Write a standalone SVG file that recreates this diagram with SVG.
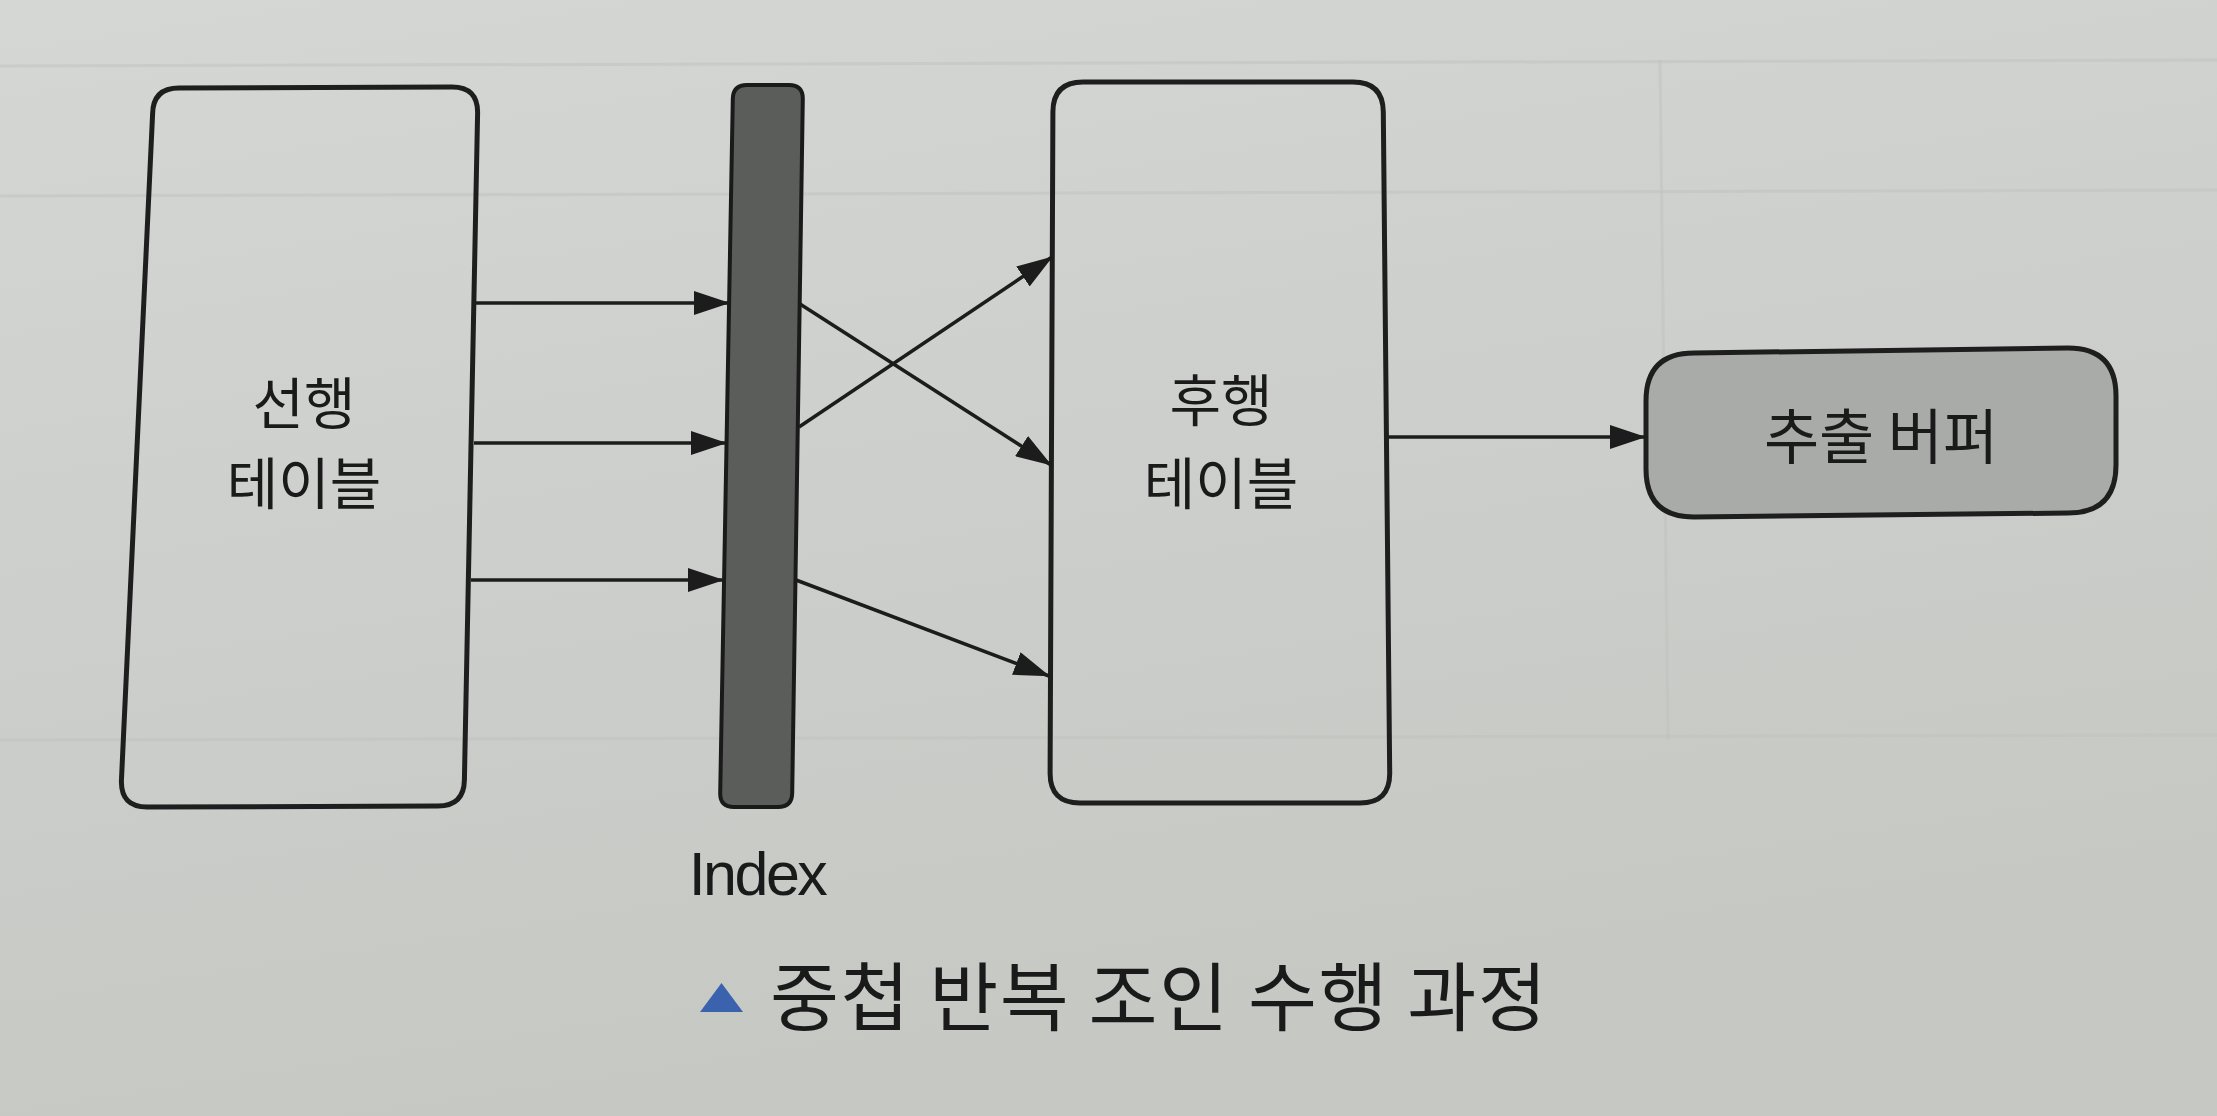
<svg xmlns="http://www.w3.org/2000/svg" width="2217" height="1116" viewBox="0 0 2217 1116">
  <defs>
    <linearGradient id="page" x1="0" y1="0" x2="0.3" y2="1">
      <stop offset="0" stop-color="#d5d7d4"/>
      <stop offset="0.5" stop-color="#cdcfcc"/>
      <stop offset="1" stop-color="#c6c8c4"/>
    </linearGradient>
    <marker id="arrow" viewBox="0 0 36 24" refX="35" refY="12" markerWidth="36" markerHeight="24" markerUnits="userSpaceOnUse" orient="auto">
      <path d="M0,0 L36,12 L0,24 Z" fill="#1c1c1c"/>
    </marker>
    <style>
      .box { fill: none; stroke: #1e1e1e; stroke-width: 5; stroke-linejoin: round; }
      .lbl { font-family: "Noto Sans CJK KR", sans-serif; font-size: 56px; fill: #1a1a1a; text-anchor: middle; dominant-baseline: central; }
      .conn line { stroke: #1c1c1c; stroke-width: 3.5; marker-end: url(#arrow); }
      .faint { stroke: #bfc1be; stroke-width: 3; fill: none; opacity: 0.5; }
    </style>
  </defs>

  <rect x="0" y="0" width="2217" height="1116" fill="url(#page)"/>
  <g id="showthrough">
    <line class="faint" x1="0" y1="66" x2="2217" y2="60"/>
    <line class="faint" x1="0" y1="196" x2="2217" y2="190"/>
    <line class="faint" x1="0" y1="740" x2="2217" y2="735"/>
    <line class="faint" x1="1660" y1="60" x2="1668" y2="740"/>
  </g>

  <g id="outer-table">
    <path class="box" d="M 179,88 L 452,87 Q 478,87 477.6,113 L 464.4,780 Q 464,806 438,806 L 147,807 Q 121,807 121.4,781 L 152.6,114 Q 153,88 179,88 Z"/>
    <text class="lbl" x="304" y="399">선행</text>
    <text class="lbl" x="304" y="479">테이블</text>
  </g>

  <g id="index">
    <path d="M 747,85 L 789,85 Q 803,85 802.8,99 L 792.2,793 Q 792,807 778,807 L 734,807 Q 720,807 720.2,793 L 732.8,99 Q 733,85 747,85 Z" fill="#5b5d5b" stroke="#1a1a1a" stroke-width="4"/>
    <text x="757" y="895" font-family="Liberation Sans, Arial, sans-serif" font-size="61" letter-spacing="-2.5" fill="#1a1a1a" text-anchor="middle">Index</text>
  </g>

  <g id="inner-table">
    <path class="box" d="M 1083,82 L 1353,82 Q 1383,82 1383.3,112 L 1389.7,773 Q 1390,803 1360,803 L 1080,803 Q 1050,803 1050.1,773 L 1052.9,112 Q 1053,82 1083,82 Z"/>
    <text class="lbl" x="1221" y="396">후행</text>
    <text class="lbl" x="1221" y="479">테이블</text>
  </g>

  <g id="output-buffer">
    <path d="M 1694,353 L 2068,348 Q 2116,348 2116,396 L 2116,465 Q 2116,513 2068,513 L 1694,517 Q 1646,517 1646,469 L 1646,401 Q 1646,353 1694,353 Z" fill="#a9aba8" stroke="#1e1e1e" stroke-width="5"/>
    <text class="lbl" x="1881" y="432" style="font-size:60px">추출 버퍼</text>
  </g>

  <g id="connectors" class="conn">
    <line x1="476" y1="303" x2="729" y2="303"/>
    <line x1="474" y1="443" x2="726" y2="443"/>
    <line x1="471" y1="580" x2="723" y2="580"/>
    <line x1="800" y1="304" x2="1051" y2="465"/>
    <line x1="799" y1="427" x2="1052" y2="257"/>
    <line x1="796" y1="580" x2="1049" y2="676"/>
    <line x1="1388" y1="437" x2="1645" y2="437"/>
  </g>

  <g id="caption">
    <polygon points="700,1012 743,1012 721.5,983" fill="#3a62ad"/>
    <text x="770" y="992" font-family="Noto Sans CJK KR, sans-serif" font-size="75" letter-spacing="1.5" fill="#1a1a1a" dominant-baseline="central">중첩 반복 조인 수행 과정</text>
  </g>
</svg>
